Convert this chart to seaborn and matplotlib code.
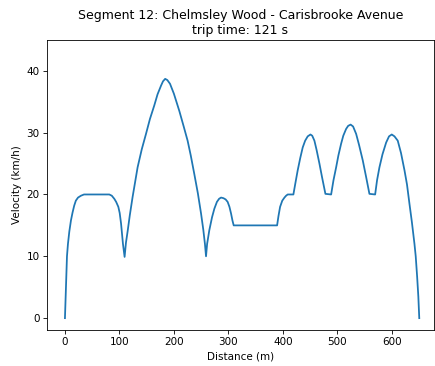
import matplotlib
matplotlib.use("Agg")
import matplotlib.pyplot as plt
import seaborn as sns
import pandas as pd

# Velocity profile along the segment (distance in m, velocity in km/h)
distance = [0, 3.7, 5.5, 8, 11, 14, 17, 20, 24, 29.4, 35, 60, 81.4, 86, 90.6, 94, 98,
            100.5, 103, 106.5, 109.5, 112, 115, 119, 124.2, 133.4, 141, 148.8, 156, 164,
            170, 176.4, 180, 184, 188, 192.9, 200, 210, 218, 225.2, 231, 237.5, 244,
            249.9, 254, 257, 259, 261, 265, 270, 274.3, 279, 283, 286.6, 291, 295,
            298.7, 302, 305, 307.5, 309.8, 350, 389.5, 392, 395, 399, 403, 406, 409,
            419.4, 423, 427.3, 432, 436.5, 441, 445.7, 450.7, 454, 458, 462, 467.2,
            472, 478.2, 488.7, 493, 497.9, 502, 507, 511, 516.2, 520, 524.5, 529,
            534.6, 540, 546.8, 553, 559, 569.5, 573, 577.4, 583, 589.7, 595, 600, 605,
            611, 617, 623.4, 628, 632.5, 637, 641.7, 644, 646.6, 648.8, 650.5]
velocity = [0, 10, 12, 14, 15.8, 17.1, 18.2, 19, 19.5, 19.8, 20, 20, 20, 19.8, 19.3, 18.8, 18,
            17, 15.3, 12, 9.9, 12.2, 14, 16.6, 19.6, 24.4, 27.3, 29.8, 32.2, 34.4,
            36.2, 37.6, 38.3, 38.7, 38.5, 37.9, 36.3, 33.5, 31, 28.7, 26.3, 23.3, 20.2,
            16.9, 14.3, 12, 10, 12, 14.2, 16.3, 17.7, 18.8, 19.3, 19.5, 19.4, 19.2,
            18.8, 18, 16.9, 15.8, 15, 15, 15, 16.5, 18, 19, 19.5, 19.8, 20,
            20, 21.8, 23.9, 25.9, 27.6, 28.7, 29.4, 29.7, 29.5, 28.7, 27.2, 25,
            22.8, 20.1, 20, 22.3, 24.4, 26.3, 28.2, 29.5, 30.6, 31.1, 31.3, 31,
            29.8, 28, 25.5, 22.8, 20.1, 20, 22.3, 24.4, 26.5, 28.4, 29.4, 29.7, 29.4,
            28.7, 26.7, 23.9, 21.6, 18.5, 15.5, 12, 10, 6.7, 3.5, 0]

df = pd.DataFrame({"Distance (m)": distance, "Velocity (km/h)": velocity})

fig, ax = plt.subplots(figsize=(5.8, 4.88), dpi=75)
fig.subplots_adjust(left=0.108, right=0.997, top=0.891, bottom=0.098)

sns.lineplot(data=df, x="Distance (m)", y="Velocity (km/h)", ax=ax,
             estimator=None, sort=False, color="#1f77b4", linewidth=1.7)

ax.set_xlim(-33, 677)
ax.set_ylim(-1.94, 45)
ax.set_xticks([0, 100, 200, 300, 400, 500, 600])
ax.set_yticks([0, 10, 20, 30, 40])
ax.set_title("Segment 12: Chelmsley Wood - Carisbrooke Avenue\ntrip time: 121 s")

fig.savefig("out.png", dpi=75)
